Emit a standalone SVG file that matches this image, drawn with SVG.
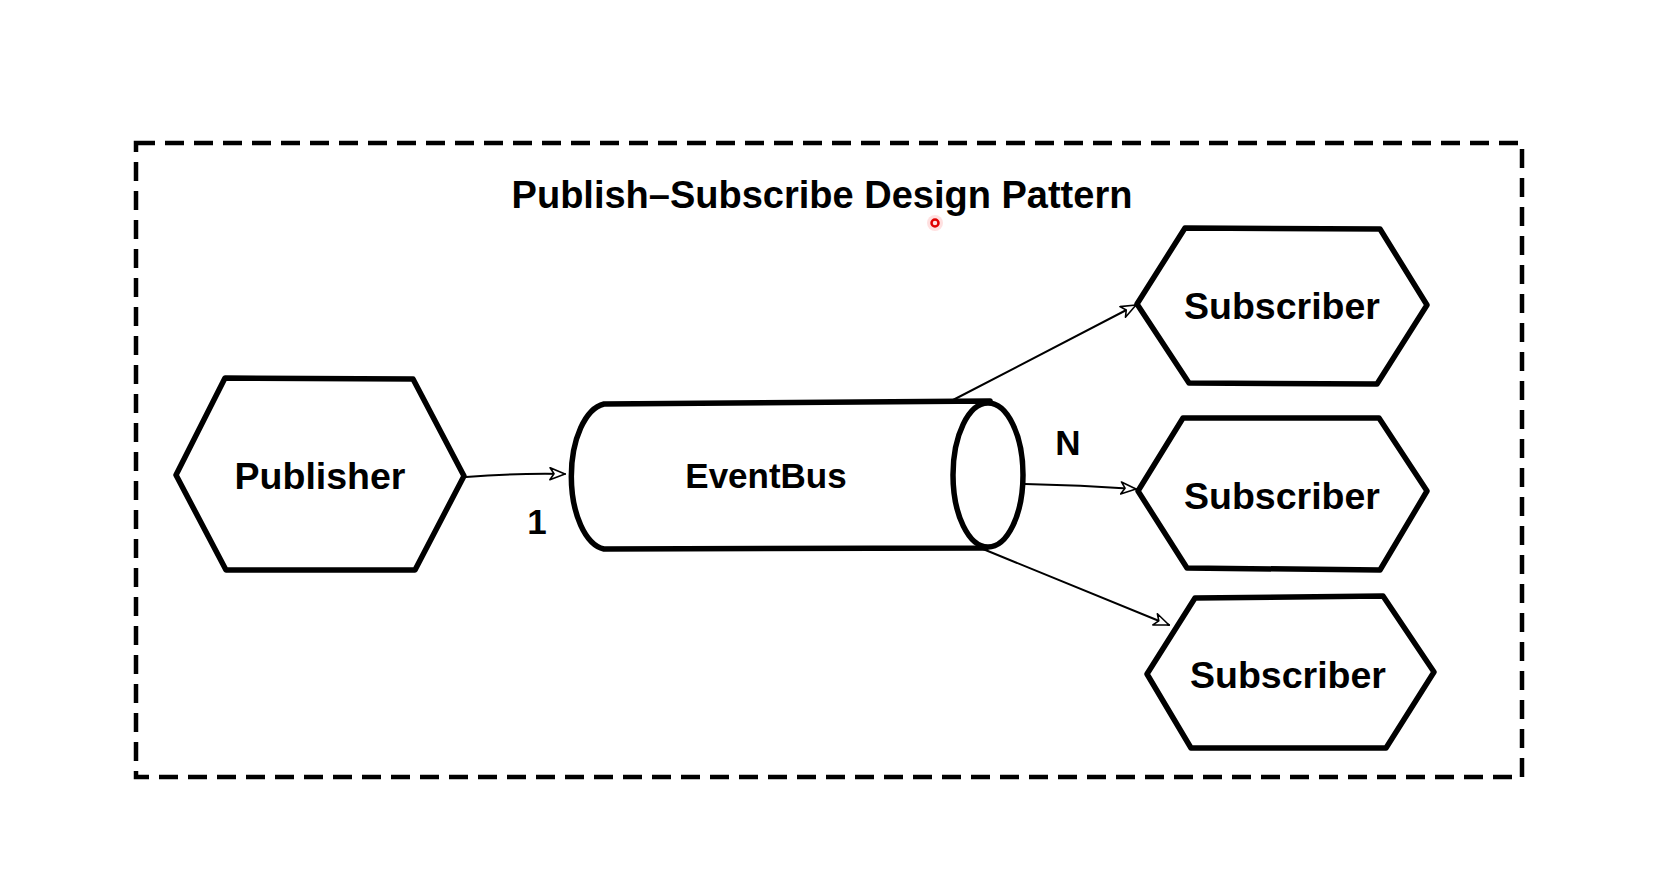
<svg xmlns="http://www.w3.org/2000/svg" width="1661" height="895" viewBox="0 0 1661 895">
<style>
.bg{fill:#ffffff}
.frame{fill:none;stroke:#000;stroke-width:4.5;stroke-dasharray:19 10}
.shape{fill:#ffffff;stroke:#000;stroke-width:5.5;stroke-linejoin:round;stroke-linecap:round}
.edge{fill:none;stroke:#000;stroke-width:2;stroke-linecap:round}
.lbl{font-family:"Liberation Sans",Arial,sans-serif;font-weight:bold;fill:#000;text-anchor:middle}
</style>
<defs>
<marker id="arr" viewBox="0 0 17 14" refX="16" refY="7" markerWidth="17" markerHeight="14" markerUnits="userSpaceOnUse" orient="auto">
<path d="M1,1 L16,7 L1,13 L5,7 Z" fill="#fff" stroke="#000" stroke-width="1.6" stroke-linejoin="round"/>
</marker>
</defs>
<rect class="bg" x="0" y="0" width="1661" height="895"/>
<g id="frame">
<rect class="frame" x="136" y="143" width="1386" height="634"/>
<text class="lbl" x="822" y="208" font-size="38">Publish–Subscribe Design Pattern</text>
</g>
<g id="connectors">
<path class="edge" d="M466,477 Q515,473 565,474" marker-end="url(#arr)"/>
<path class="edge" d="M953,400 L1136,305" marker-end="url(#arr)"/>
<path class="edge" d="M1025,484 Q1080,485 1136,489" marker-end="url(#arr)"/>
<path class="edge" d="M983,549 L1169,625" marker-end="url(#arr)"/>
<text class="lbl" x="537" y="534" font-size="35">1</text>
<text class="lbl" x="1068" y="455" font-size="35">N</text>
</g>
<g id="publisher">
<polygon class="shape" points="225,378 413,379 464,476 415,570 226,570 176,475"/>
<text class="lbl" x="320" y="489" font-size="37.5">Publisher</text>
</g>
<g id="eventbus">
<path class="shape" d="M604,404 L990,401 L986,548 L604,549 A37,73 0 0 1 604,404 Z"/>
<ellipse class="shape" cx="988" cy="475" rx="35" ry="72"/>
<text class="lbl" x="766" y="488" font-size="35">EventBus</text>
</g>
<g id="subscriber1">
<polygon class="shape" points="1185,228 1380,229 1427,305 1377,384 1189,383 1137,304"/>
<text class="lbl" x="1282" y="319" font-size="37.5">Subscriber</text>
</g>
<g id="subscriber2">
<polygon class="shape" points="1183,418 1379,418 1427,491 1380,570 1187,568 1138,491"/>
<text class="lbl" x="1282" y="509" font-size="37.5">Subscriber</text>
</g>
<g id="subscriber3">
<polygon class="shape" points="1195,598 1383,596 1434,672 1386,748 1191,748 1147,674"/>
<text class="lbl" x="1288" y="688" font-size="37.5">Subscriber</text>
</g>
<g id="pointer">
<circle cx="935" cy="223" r="8" fill="#ff0000" opacity="0.12"/>
<circle cx="935" cy="223" r="3.5" fill="none" stroke="#e00000" stroke-width="2.5"/>
</g>
</svg>
